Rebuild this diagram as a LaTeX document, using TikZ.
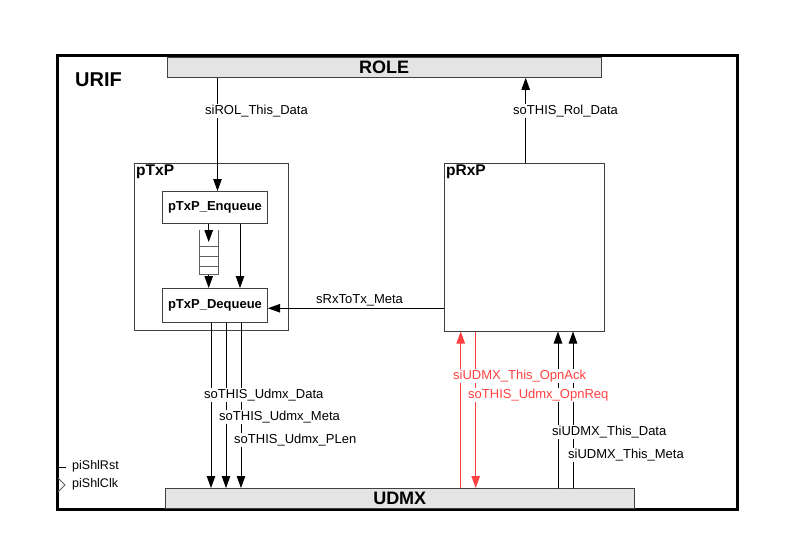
\documentclass[tikz,border=0pt]{standalone}
\usepackage{fontspec}
\setmainfont{Liberation Sans}
\usetikzlibrary{arrows.meta}
\definecolor{sigred}{RGB}{255,64,64}
\definecolor{busgray}{RGB}{228,228,228}
\definecolor{edgegray}{RGB}{64,64,64}
\definecolor{qgray}{RGB}{96,96,96}
\begin{document}
\begin{tikzpicture}[x=1pt,y=-1pt,
  blk/.style={draw=edgegray, line width=1pt, fill=white, inner sep=0pt},
  bus/.style={draw=edgegray, line width=1pt, fill=busgray, inner sep=0pt,
    font=\bfseries\fontsize{18}{21}\selectfont},
  sub/.style={blk, font=\bfseries\fontsize{13}{15}\selectfont},
  title/.style={font=\bfseries\fontsize{15.5}{18}\selectfont, anchor=base west, inner sep=0pt},
  sig/.style={draw=black, line width=0.8pt, -{Triangle[length=12pt,width=8.5pt]}},
  lbl/.style={font=\fontsize{13}{15}\selectfont, fill=white, inner sep=1pt, anchor=base west},
  pin/.style={font=\fontsize{12.5}{15}\selectfont, inner sep=0pt, anchor=base west}]
\useasboundingbox (0,0) rectangle (794,559);

% top-level frame
\node[draw, line width=3pt, minimum width=679.5, minimum height=453, inner sep=0pt] (urif) at (397.25,282.5) {};
\node[font=\bfseries\fontsize{20}{24}\selectfont, anchor=base west, inner sep=0pt] (urifname) at (75,87) {URIF};

% buses
\node[bus, minimum width=434, minimum height=20] (role) at (384,67.4) {ROLE};
\node[bus, minimum width=468.5, minimum height=19.5] (udmx) at (399.75,498.25) {UDMX};

% processes
\node[blk, minimum width=154, minimum height=167] (ptxp) at (211,246.5) {};
\node[title] (ptxpname) at ([xshift=2.5pt,yshift=-12.5pt]ptxp.north west) {pTxP};
\node[sub, minimum width=105, minimum height=31.5] (enq) at (215,207.25) {pTxP\_Enqueue};
\node[sub, minimum width=105, minimum height=33.5] (deq) at (215,305.25) {pTxP\_Dequeue};
\node[blk, minimum width=160, minimum height=168] (prxp) at (524,247) {};
\node[title] (prxpname) at ([xshift=2.5pt,yshift=-12.5pt]prxp.north west) {pRxP};

% FIFO between enqueue and dequeue
\node[minimum width=19, minimum height=44.5, inner sep=0pt, anchor=north west] (queue) at (199,230) {};
\draw[qgray, line width=0.9pt] (queue.north west) -- (queue.south west) -- (queue.south east) -- (queue.north east);
\foreach \yy in {246.5,256.5,266.5}
  \draw[qgray, line width=0.9pt] (queue.west |- 0,\yy) -- (queue.east |- 0,\yy);

% connectors inside pTxP
\draw[sig] (queue.north |- enq.south) -- ([yshift=-12pt]queue.north);
\draw[sig] (queue.south) -- (queue.south |- deq.north);
\coordinate (bypass) at ([xshift=25pt]enq.south);
\draw[sig] (bypass) -- (bypass |- deq.north);

% ROLE <-> processes
\coordinate (rolin) at ([xshift=2.5pt]enq.north);
\draw[sig] (rolin |- role.south) -- (rolin);
\coordinate (rolout) at ([xshift=1.7pt]prxp.north);
\draw[sig] (rolout) -- (rolout |- role.south);

% pRxP -> pTxP
\coordinate (metain) at ([yshift=-3pt]deq.east);
\draw[sig] (prxp.west |- metain) -- (metain);

% pTxP -> UDMX
\foreach \dx/\nm in {-4/txa,11/txb,26/txc} {
  \coordinate (\nm) at ([xshift=\dx pt]deq.south);
  \draw[sig] (\nm) -- (\nm |- udmx.north);
}

% UDMX <-> pRxP
\coordinate (ack) at ([xshift=-63.3pt]prxp.south);
\draw[sig, draw=sigred] (ack |- udmx.north) -- (ack);
\coordinate (req) at ([xshift=-48.3pt]prxp.south);
\draw[sig, draw=sigred] (req) -- (req |- udmx.north);
\coordinate (rxa) at ([xshift=34pt]prxp.south);
\draw[sig] (rxa |- udmx.north) -- (rxa);
\coordinate (rxb) at ([xshift=49pt]prxp.south);
\draw[sig] (rxb |- udmx.north) -- (rxb);

% signal names
\node[lbl] (l1) at (204,114) {siROL\_This\_Data};
\node[lbl] (l2) at (512,114) {soTHIS\_Rol\_Data};
\node[lbl] (l3) at (315,303) {sRxToTx\_Meta};
\node[lbl] (l4) at (203,398) {soTHIS\_Udmx\_Data};
\node[lbl] (l5) at (218,420.5) {soTHIS\_Udmx\_Meta};
\node[lbl] (l6) at (233,443) {soTHIS\_Udmx\_PLen};
\node[lbl, text=sigred] (l7) at (452,379) {siUDMX\_This\_OpnAck};
\node[lbl, text=sigred] (l8) at (467,398) {soTHIS\_Udmx\_OpnReq};
\node[lbl] (l9) at (551,435) {siUDMX\_This\_Data};
\node[lbl] (l10) at (567,458) {siUDMX\_This\_Meta};

% reset and clock pins
\draw[line width=0.8pt] (58,467) -- (66,467);
\node[pin] (rst) at (72,469.5) {piShlRst};
\draw[qgray, line width=0.8pt] (58,478) -- (65,485) -- (58,492);
\node[pin] (clk) at (72,487) {piShlClk};
\end{tikzpicture}
\end{document}
